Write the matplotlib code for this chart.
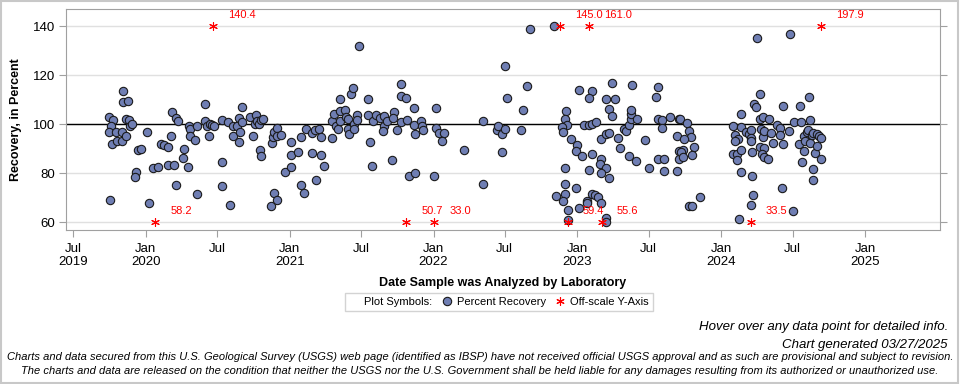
import numpy as np
import pandas as pd
import matplotlib
matplotlib.use("Agg")
import matplotlib.pyplot as plt
import matplotlib.dates as mdates
from matplotlib.lines import Line2D
from matplotlib.patches import Rectangle

plt.rcParams['font.family'] = ['Liberation Sans', 'DejaVu Sans']

# date analysed (decimal year) and percent recovery
yr = [2019.752, 2019.748, 2019.775, 2019.757, 2019.745, 2019.792, 2019.768, 2019.803, 2019.838, 2019.838,
      2019.866, 2019.845, 2019.845, 2019.880, 2019.866, 2019.884, 2019.889, 2019.903, 2019.947, 2019.965,
      2019.935, 2019.928, 2020.012, 2020.023, 2020.051, 2020.088, 2020.107, 2020.130, 2020.158, 2020.174,
      2020.185, 2020.211, 2020.227, 2020.158, 2020.195, 2020.213, 2020.269, 2020.262, 2020.297, 2020.299,
      2020.308, 2020.306, 2020.343, 2020.359, 2020.359, 2020.415, 2020.412, 2020.426, 2020.447, 2020.463,
      2020.477, 2020.438, 2020.530, 2020.530, 2020.530, 2020.574, 2020.588, 2020.609, 2020.609, 2020.632,
      2020.651, 2020.669, 2020.672, 2020.656, 2020.651,
      2020.727, 2020.748, 2020.766, 2020.759, 2020.775, 2020.789, 2020.799, 2020.813, 2020.796, 2020.803,
      2020.875, 2020.894, 2020.914, 2020.880, 2020.887, 2020.894, 2020.914, 2020.914, 2020.942, 2020.970,
      2021.009, 2021.012, 2021.012, 2021.060, 2021.081, 2021.079, 2021.102, 2021.111, 2021.155, 2021.158,
      2021.178, 2021.185, 2021.206, 2021.218, 2021.218, 2021.241, 2021.297, 2021.294, 2021.311, 2021.320,
      2021.332, 2021.350, 2021.352, 2021.350, 2021.387, 2021.392, 2021.408, 2021.405, 2021.415, 2021.426,
      2021.443, 2021.445, 2021.447, 2021.470, 2021.470, 2021.484, 2021.544, 2021.544, 2021.561, 2021.575,
      2021.582, 2021.602, 2021.626, 2021.658, 2021.653, 2021.646, 2021.677,
      2021.712, 2021.728, 2021.719, 2021.746, 2021.774, 2021.774, 2021.774, 2021.811, 2021.814, 2021.832,
      2021.867, 2021.867, 2021.874, 2021.874, 2021.909, 2021.922, 2021.929, 2022.003, 2022.020, 2022.020,
      2022.041, 2022.075, 2022.061, 2022.214, 2022.346, 2022.346, 2022.443, 2022.451, 2022.478, 2022.478,
      2022.499, 2022.499, 2022.513, 2022.610, 2022.624, 2022.652, 2022.673,
      2022.840, 2022.921, 2022.914, 2022.930, 2022.891, 2022.903, 2022.958, 2023.000, 2022.993, 2023.035,
      2022.917, 2022.917, 2022.917, 2022.854, 2022.903, 2022.937, 2022.993, 2023.014, 2022.937, 2023.014,
      2023.102, 2023.083, 2023.049, 2023.083, 2023.104, 2023.127, 2023.102, 2023.083, 2023.069, 2023.069,
      2023.104, 2023.125, 2023.146, 2023.167, 2023.164, 2023.202, 2023.222, 2023.167, 2023.160, 2023.202,
      2023.167, 2023.222, 2023.202, 2023.222, 2023.243, 2023.243, 2023.264, 2023.202, 2023.202, 2023.285,
      2023.296, 2023.327, 2023.336, 2023.361, 2023.373, 2023.373, 2023.373, 2023.378, 2023.417, 2023.361,
      2023.410, 2023.473, 2023.500, 2023.549, 2023.563, 2023.558, 2023.586, 2023.586, 2023.563, 2023.604,
      2023.604, 2023.642, 2023.693, 2023.706, 2023.706, 2023.706, 2023.693,
      2023.715, 2023.764, 2023.778, 2023.791, 2023.743, 2023.812, 2023.736, 2023.720, 2023.736, 2023.798,
      2023.852, 2023.775, 2023.798,
      2024.083, 2024.097, 2024.118, 2024.097, 2024.081, 2024.111, 2024.111, 2024.139, 2024.139, 2024.139,
      2024.141, 2024.174, 2024.192, 2024.208, 2024.208, 2024.208, 2024.215, 2024.215, 2024.222, 2024.208,
      2024.125, 2024.227, 2024.243, 2024.248, 2024.269, 2024.269, 2024.292, 2024.280, 2024.292, 2024.271,
      2024.299, 2024.285, 2024.299, 2024.329, 2024.333, 2024.301, 2024.350, 2024.361, 2024.389, 2024.410,
      2024.410, 2024.431, 2024.431, 2024.424, 2024.473, 2024.479, 2024.498, 2024.507, 2024.549, 2024.556,
      2024.542, 2024.563, 2024.577, 2024.577, 2024.582, 2024.598, 2024.618, 2024.612, 2024.605, 2024.616,
      2024.632, 2024.639, 2024.653, 2024.639, 2024.639, 2024.669, 2024.681, 2024.667, 2024.695, 2024.695]

pct = [69.3, 102.9, 101.6, 99.5, 96.7, 96.7, 92.1, 93.1, 93.1, 96.7,
       95.1, 113.7, 109.3, 109.7, 102.3, 101.9, 99.5, 100.3, 89.7, 90.1,
       80.7, 78.6, 96.7, 68.0, 82.3, 82.7, 92.1, 91.7, 90.9, 95.4,
       104.9, 102.6, 101.2, 83.5, 83.5, 75.4, 90.1, 86.4, 82.7, 99.2,
       98.2, 95.4, 93.7, 71.7, 99.2, 108.4, 101.2, 99.5, 100.3, 99.6,
       99.2, 95.4, 101.9, 84.8, 75.0, 101.0, 66.9, 99.2, 95.4, 99.5,
       102.7, 107.3, 100.8, 96.7, 92.7,
       103.1, 95.1, 103.9, 100.3, 101.2, 100.3, 101.6, 102.4, 89.5, 87.2,
       66.8, 72.1, 69.3, 92.5, 94.8, 96.9, 98.6, 95.4, 95.8, 80.7,
       92.9, 87.6, 82.7, 88.8, 95.0, 75.4, 72.1, 98.1, 96.6, 88.4,
       97.6, 77.4, 98.2, 95.0, 87.6, 83.1, 94.6, 101.5, 104.4, 99.2,
       98.2, 110.5, 105.3, 101.2, 106.0, 103.0, 102.3, 98.0, 96.2, 112.5,
       115.0, 100.3, 98.2, 103.9, 101.6, 132.1, 110.5, 103.9, 92.9, 83.1,
       101.2, 103.9, 102.7, 103.5, 99.5, 97.4, 101.2,
       85.3, 104.9, 102.7, 97.8, 116.3, 111.7, 100.8, 110.9, 101.6, 79.0,
       106.5, 99.9, 96.2, 80.3, 101.2, 99.2, 97.8, 79.0, 106.5, 98.6,
       96.6, 96.6, 93.3, 89.7, 101.5, 75.8, 97.6, 99.2, 95.9, 88.8,
       98.2, 123.9, 110.9, 97.8, 106.0, 115.8, 139.0,
       140.0, 105.3, 102.3, 99.9, 98.8, 97.1, 94.1, 91.7, 89.3, 87.2,
       82.4, 75.8, 71.7, 70.9, 68.8, 65.2, 74.1, 66.0, 60.8, 114.2,
       113.7, 110.9, 99.9, 99.9, 100.1, 100.8, 88.0, 81.5, 68.8, 68.0,
       71.7, 71.3, 70.5, 68.0, 94.1, 95.9, 96.4, 86.0, 83.8, 82.4,
       80.3, 78.2, 110.3, 106.4, 103.4, 117.0, 110.5, 61.9, 60.1, 94.5,
       90.5, 98.2, 97.4, 99.9, 102.3, 104.4, 105.7, 116.2, 102.3, 87.2,
       85.2, 93.7, 82.4, 111.3, 115.4, 102.3, 101.9, 98.6, 86.0, 86.0,
       81.1, 103.1, 95.4, 102.3, 89.0, 86.0, 81.1,
       102.3, 100.4, 97.4, 95.0, 94.1, 90.9, 89.7, 88.8, 86.8, 87.6,
       70.5, 66.5, 66.5,
       99.5, 95.8, 94.1, 93.3, 88.0, 88.0, 85.3, 80.7, 89.7, 104.4,
       99.0, 97.1, 96.2, 97.6, 94.6, 93.3, 88.8, 79.0, 71.3, 67.2,
       61.5, 108.3, 107.1, 135.1, 112.5, 102.3, 103.1, 98.2, 95.0, 90.9,
       90.5, 88.0, 86.8, 86.0, 102.3, 97.4, 96.6, 92.5, 99.9, 98.6,
       95.8, 107.6, 92.1, 74.1, 97.4, 137.0, 64.8, 100.8, 107.6, 101.1,
       92.1, 84.8, 89.3, 95.4, 93.3, 97.1, 101.9, 111.3, 97.8, 92.5,
       95.5, 96.6, 88.4, 82.0, 77.4, 96.2, 95.4, 91.3, 94.6, 86.0]

# off-scale results (actual value shown as label, drawn at the axis edge)
off_yr = [2020.470, 2020.067, 2021.811, 2022.006, 2022.882, 2023.083, 2022.933, 2023.171, 2024.208, 2024.693]
off_val = [140.4, 58.2, 50.7, 33.0, 145.0, 161.0, 59.4, 55.6, 33.5, 197.9]

tick_dates = ['2019-07-01', '2020-01-01', '2020-07-01', '2021-01-01', '2021-07-01', '2022-01-01',
              '2022-07-01', '2023-01-01', '2023-07-01', '2024-01-01', '2024-07-01', '2025-01-01']
tick_labels = ['Jul\n2019', 'Jan\n2020', 'Jul', 'Jan\n2021', 'Jul', 'Jan\n2022',
               'Jul', 'Jan\n2023', 'Jul', 'Jan\n2024', 'Jul', 'Jan\n2025']


def to_date(y):
    y = np.asarray(y)
    start = pd.to_datetime((y.astype(int)).astype(str) + '-01-01')
    return mdates.date2num(start + pd.to_timedelta((y - y.astype(int)) * 365.25, unit='D'))


x = to_date(yr)
ox = to_date(off_yr)
oy = np.clip(off_val, 60, 140)

fig = plt.figure(figsize=(9.6, 3.84), dpi=100)
ax = fig.add_axes([66/960, 1 - 230/384, 874/960, 221/384])

ax.axhline(100, color='black', lw=1, zorder=2)
ax.grid(axis='y', color='#e0e0e0', lw=1, zorder=0)
ax.set_axisbelow(True)

ax.scatter(x, pct, s=36, facecolor='#6F7EB3', edgecolor='#1a1a1a', linewidth=0.8, zorder=3)
star = (6, 2, 0)
ax.scatter(ox, oy, marker=star, s=32, color='red', linewidth=0.8, zorder=4)
for xi, yi, v in zip(ox, oy, off_val):
    ax.annotate(f'{v:.1f}', (xi, yi), xytext=(15, 11), textcoords='offset pixels',
                color='red', fontsize=8, ha='left', va='center')

ax.set_ylim(56.9, 147.1)
ax.set_yticks([60, 80, 100, 120, 140])
ax.set_xlim(to_date([2019.446])[0], to_date([2025.520])[0])
ax.set_xticks(mdates.date2num(pd.to_datetime(tick_dates)))
ax.set_xticklabels(tick_labels)

for s in ax.spines.values():
    s.set_color('#a0a0a0')
ax.tick_params(axis='both', color='#a0a0a0', length=5, labelsize=9.5, labelcolor='black')
ax.tick_params(axis='y', right=True, pad=3)
ax.tick_params(axis='x', pad=4)

ax.set_ylabel('Recovery, in Percent', fontsize=9, fontweight='bold', labelpad=8)
ax.set_xlabel('Date Sample was Analyzed by Laboratory', fontsize=9, fontweight='bold', labelpad=6)

h0 = Line2D([], [], ls='none')
h1 = Line2D([], [], ls='none', marker='o', markersize=6, markerfacecolor='#6F7EB3', markeredgecolor='#1a1a1a', markeredgewidth=0.8)
h2 = Line2D([], [], ls='none', marker=star, markersize=6, color='red', markeredgewidth=0.8)
leg = fig.legend([h0, h1, h2], ['Plot Symbols:', 'Percent Recovery', 'Off-scale Y-Axis'],
                 loc='center', bbox_to_anchor=(0.52, 1 - 302/384), ncol=3, fontsize=8,
                 frameon=True, fancybox=False, edgecolor='#c8c8c8', handlelength=0.8,
                 handletextpad=0.5, columnspacing=0.9, borderpad=0.4)
leg.get_frame().set_linewidth(1)

narrow = ['Liberation Sans Narrow', 'Liberation Sans', 'DejaVu Sans']
fig.text(948/960, 1 - 327/384, 'Hover over any data point for detailed info.', ha='right', va='center',
         fontsize=9.5, style='italic', family=narrow)
fig.text(948/960, 1 - 345/384, 'Chart generated 03/27/2025', ha='right', va='center',
         fontsize=9.5, style='italic', family=narrow)
fig.text(0.5, 1 - 357/384, 'Charts and data secured from this U.S. Geological Survey (USGS) web page (identified as IBSP) '
         'have not received official USGS approval and as such are provisional and subject to revision.',
         ha='center', va='center', fontsize=8, style='italic', family=narrow)
fig.text(0.5, 1 - 371/384, 'The charts and data are released on the condition that neither the USGS nor the U.S. '
         'Government shall be held liable for any damages resulting from its authorized or unauthorized use.',
         ha='center', va='center', fontsize=8, style='italic', family=narrow)

fig.patches.append(Rectangle((0.001, 0.002), 0.997, 0.995, transform=fig.transFigure,
                             fill=False, edgecolor='#c8c8c8', lw=1.5))

fig.savefig('out.png', dpi=100)
